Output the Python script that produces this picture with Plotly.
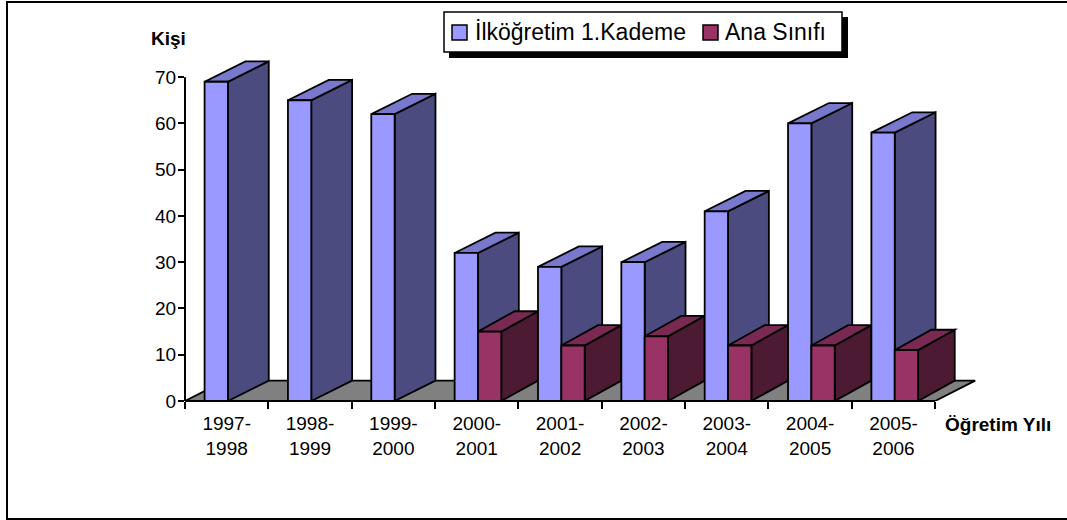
import plotly.graph_objects as go

categories = ["1997-1998", "1998-1999", "1999-2000", "2000-2001", "2001-2002",
              "2002-2003", "2003-2004", "2004-2005", "2005-2006"]
ilkogretim = [69, 65, 62, 32, 29, 30, 41, 60, 58]
ana_sinifi = [None, None, None, 15, 12, 14, 12, 12, 11]

series_names = ["İlköğretim 1.Kademe", "Ana Sınıfı"]
y_ticks = [0, 10, 20, 30, 40, 50, 60, 70]

# colours
BLUE_FRONT, BLUE_SIDE, BLUE_TOP = "#9999FF", "#4B4B80", "#7878CC"
MAG_FRONT, MAG_SIDE, MAG_TOP = "#993366", "#4C1A32", "#7A2952"
FLOOR = "#808080"
FONT = "Liberation Sans, Arial, sans-serif"

# figure geometry (pixels)
WIDTH, HEIGHT = 1067, 520
L, R, T, B = 185, 86, 54, 119
PW, PH = WIDTH - L - R, HEIGHT - T - B
X_RANGE = [-0.5, 9.05]
Y_RANGE = [0, 75]

# pseudo-3D depth offsets in data units
DXB, DXM, DY, DXF = 0.49, 0.44, 4.4, 0.48
BW = 0.28
B_OFF, M_OFF = -0.265, 0.015


def pxx(px):
    return (px - L) / PW


def pxy(py):
    return (HEIGHT - B - py) / PH


xs = list(range(len(categories)))
tick_text = [c.replace("-", "-<br>") for c in categories]

shapes = []
line = dict(color="black", width=1.8)


def poly(pts, fill):
    path = "M " + " L ".join(f"{x:.4f},{y:.4f}" for x, y in pts) + " Z"
    shapes.append(dict(type="path", path=path, xref="x", yref="y",
                       fillcolor=fill, line=line, layer="below"))


# floor
n = len(categories)
poly([(-0.5, 0), (n - 0.5, 0), (n - 0.5 + DXF, DY), (-0.5 + DXF, DY)], FLOOR)

for i, (vb, vm) in enumerate(zip(ilkogretim, ana_sinifi)):
    l = i + B_OFF
    r = l + BW
    poly([(r, 0), (r + DXB, DY), (r + DXB, vb + DY), (r, vb)], BLUE_SIDE)
    poly([(l, vb), (r, vb), (r + DXB, vb + DY), (l + DXB, vb + DY)], BLUE_TOP)
    if vm is not None:
        l2 = i + M_OFF
        r2 = l2 + BW
        poly([(r2, 0), (r2 + DXM, DY), (r2 + DXM, vm + DY), (r2, vm)], MAG_SIDE)
        poly([(l2, vm), (r2, vm), (r2 + DXM, vm + DY), (l2 + DXM, vm + DY)], MAG_TOP)

# axis lines
shapes.append(dict(type="line", xref="x", yref="paper", x0=-0.5, x1=n - 0.5,
                   y0=0, y1=0, line=dict(color="black", width=2), layer="above"))
shapes.append(dict(type="line", xref="paper", yref="y", x0=0, x1=0,
                   y0=0, y1=y_ticks[-1], line=dict(color="black", width=2), layer="above"))

# outer border
shapes.append(dict(type="rect", xref="paper", yref="paper",
                   x0=pxx(7), x1=pxx(1090), y0=pxy(519), y1=pxy(2),
                   line=dict(color="black", width=2), fillcolor="rgba(0,0,0,0)", layer="above"))

# legend box with shadow
shapes.append(dict(type="rect", xref="paper", yref="paper",
                   x0=pxx(449), x1=pxx(848), y0=pxy(58), y1=pxy(17),
                   line=dict(width=0), fillcolor="black", layer="above"))
shapes.append(dict(type="rect", xref="paper", yref="paper",
                   x0=pxx(444), x1=pxx(842), y0=pxy(52), y1=pxy(12),
                   line=dict(color="black", width=1.5), fillcolor="white", layer="above"))
legend_items = [(452, BLUE_FRONT, 473), (703, MAG_FRONT, 723)]
annotations = []
for (sx, col, tx), name in zip(legend_items, series_names):
    shapes.append(dict(type="rect", xref="paper", yref="paper",
                       x0=pxx(sx), x1=pxx(sx + 15), y0=pxy(40), y1=pxy(25),
                       line=dict(color="black", width=1.5), fillcolor=col, layer="above"))
    annotations.append(dict(x=pxx(tx), y=pxy(32.5), xref="paper", yref="paper",
                            text=name, showarrow=False, xanchor="left", yanchor="middle",
                            font=dict(family=FONT, size=23, color="black")))

annotations.append(dict(x=pxx(168), y=pxy(38), xref="paper", yref="paper", text="<b>Kişi</b>",
                        showarrow=False, xanchor="center", yanchor="middle",
                        font=dict(family=FONT, size=19, color="black")))
annotations.append(dict(x=pxx(943), y=pxy(424), xref="paper", yref="paper",
                        text="<b>Öğretim Yılı</b>", showarrow=False, xanchor="left",
                        yanchor="middle", font=dict(family=FONT, size=19, color="black")))

fig = go.Figure()
fig.add_trace(go.Bar(x=xs, y=ilkogretim, width=BW, offset=B_OFF, name=series_names[0],
                     marker=dict(color=BLUE_FRONT, line=line), showlegend=False))
mx = [x for x, v in zip(xs, ana_sinifi) if v is not None]
my = [v for v in ana_sinifi if v is not None]
fig.add_trace(go.Bar(x=mx, y=my, width=BW, offset=M_OFF, name=series_names[1],
                     marker=dict(color=MAG_FRONT, line=line), showlegend=False))

fig.update_layout(
    width=WIDTH, height=HEIGHT,
    margin=dict(l=L, r=R, t=T, b=B, pad=0),
    paper_bgcolor="white", plot_bgcolor="white",
    barmode="overlay", showlegend=False,
    shapes=shapes, annotations=annotations,
    font=dict(family=FONT, size=19, color="black"),
    xaxis=dict(range=X_RANGE, tickmode="array", tickvals=xs, ticktext=tick_text,
               ticks="", showline=False, showgrid=False, zeroline=False,
               ticklabelstandoff=9,
               tickfont=dict(family=FONT, size=19, color="black"),
               minor=dict(tickmode="linear", tick0=-0.5, dtick=1, ticks="outside",
                          ticklen=7, tickwidth=1.5, tickcolor="black", showgrid=False)),
    yaxis=dict(range=Y_RANGE, tickmode="array", tickvals=y_ticks, ticks="outside",
               ticklen=6, tickwidth=1.5, tickcolor="black", showline=False,
               showgrid=False, zeroline=False, ticklabelstandoff=-2,
               tickfont=dict(family=FONT, size=19, color="black")),
)

fig.write_html("out.html", config={"displayModeBar": False},
               post_script="document.body.style.margin='0';"
                           "document.body.style.overflow='hidden';")
